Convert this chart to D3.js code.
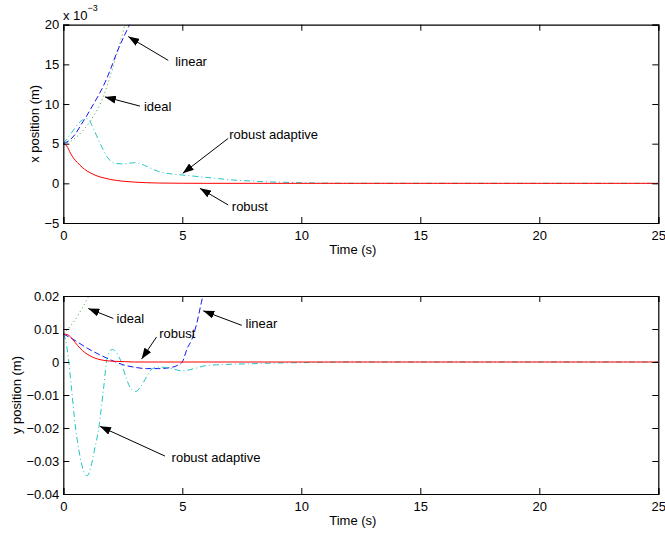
<!DOCTYPE html>
<html>
<head>
<meta charset="utf-8">
<script src="https://cdn.jsdelivr.net/npm/d3@7"></script>
<style>
  body { margin: 0; background: #fff; }
  text { font-family: "Liberation Sans", Arial, sans-serif; fill: #000; }
</style>
</head>
<body>
<div id="chart"></div>
<script>
// x position (units of 1e-3 m)
var xRobustT = [0,0.15,0.3,0.45,0.6,0.8,1,1.25,1.5,1.75,2,2.5,3,3.5,4,5,6,25];
var xRobust  = [5,4.7,3.8,3.1,2.6,2.0,1.55,1.15,0.85,0.65,0.48,0.27,0.15,0.08,0.04,0.01,0,0];
var xLinearT = [0,0.25,0.5,0.75,1,1.25,1.5,1.75,2,2.25,2.5,2.75,3];
var xLinear  = [5,5.4,6.2,7.4,8.6,9.9,11.2,12.7,14.5,16.5,18.2,19.8,21.5];
var xIdealT  = [0,0.25,0.5,0.75,1,1.25,1.5,1.75,2,2.25,2.5,2.75];
var xIdeal   = [5,5.2,5.7,6.4,7.3,8.4,9.7,11.5,13.8,16.3,19.0,22];
var xAdaptT  = [0,0.2,0.4,0.6,0.8,0.95,1.1,1.25,1.4,1.55,1.7,1.85,2,2.2,2.5,2.8,3,3.3,3.6,4,4.5,5,5.5,6,6.5,7,7.5,8,9,10,11,12,25];
var xAdapt   = [5,5.8,6.6,7.4,8.0,8.2,7.9,7.0,6.0,5.0,4.1,3.3,2.8,2.5,2.45,2.55,2.6,2.4,2.0,1.5,1.2,1.05,0.9,0.75,0.6,0.45,0.35,0.27,0.15,0.08,0.03,0.01,0];

// y position (m)
var yRobustT = [0,0.2,0.4,0.6,0.8,1,1.25,1.5,1.8,2.2,2.6,3,4,25];
var yRobust  = [0.0085,0.0082,0.0068,0.0050,0.0035,0.0024,0.0014,0.0008,0.0004,0.0002,0.0001,0,0,0];
var yIdealT  = [0,0.25,0.5,0.75,1,1.25];
var yIdeal   = [0.0085,0.0105,0.0128,0.0158,0.019,0.0225];
var yLinearT = [0,0.5,1,1.5,2,2.5,3,3.5,4,4.5,4.8,5,5.2,5.4,5.6,5.8,6];
var yLinear  = [0.0085,0.0065,0.0042,0.0023,0.0006,-0.0008,-0.0016,-0.002,-0.002,-0.0017,-0.001,0,0.004,0.0068,0.0115,0.018,0.024];
var yAdaptT  = [0,0.1,0.2,0.35,0.5,0.7,0.85,1,1.15,1.3,1.5,1.7,1.85,2.05,2.2,2.4,2.65,2.85,3.05,3.25,3.5,3.75,4,4.5,5,5.5,6,7,8,9,10,12,25];
var yAdapt   = [0.0085,0.0065,0.002,-0.0084,-0.019,-0.0285,-0.033,-0.0345,-0.032,-0.027,-0.0195,-0.0075,0.0015,0.0038,0.0032,0.0006,-0.005,-0.0082,-0.0089,-0.0075,-0.0045,-0.002,-0.0015,-0.0019,-0.0027,-0.002,-0.0011,-0.0007,-0.0005,-0.0003,-0.0002,0,0];

var timeTicks = [0,5,10,15,20,25];
var xPosTicks = [-5,0,5,10,15,20];
var yPosTicks = [-0.04,-0.03,-0.02,-0.01,0,0.01,0.02];

// annotations: label, text anchor (t, v), arrow tail, arrow head
var xNotes = [
    {label: "linear", at: [4.70, 15.24], tail: [4.41, 15.5], head: [2.73, 18.5]},
    {label: "ideal", at: [3.39, 9.52], tail: [3.22, 9.74], head: [1.75, 10.9]},
    {label: "robust adaptive", at: [6.97, 6.08], tail: [6.93, 5.67], head: [5.02, 1.26]},
    {label: "robust", at: [7.08, -3.07], tail: [6.93, -2.73], head: [5.74, -0.63]}
];
var yNotes = [
    {label: "ideal", at: [2.24, 0.0129], tail: [2.10, 0.0132], head: [1.05, 0.0162]},
    {label: "linear", at: [7.66, 0.0114], tail: [7.50, 0.0111], head: [5.88, 0.0155]},
    {label: "robust", at: [4.03, 0.0084], tail: [3.92, 0.0076], head: [3.29, 0.0009]},
    {label: "robust adaptive", at: [4.55, -0.0292], tail: [4.27, -0.0285], head: [1.54, -0.0195]}
];

/* SVG */
var width = 665, height = 533;
var fs = "13px";
var svg = d3.select("#chart").append("svg")
    .attr("width", width)
    .attr("height", height);

svg.append("defs").append("marker")
    .attr("id", "arrow")
    .attr("markerUnits", "userSpaceOnUse")
    .attr("viewBox", "0 0 11 8")
    .attr("refX", 11).attr("refY", 4)
    .attr("markerWidth", 11).attr("markerHeight", 8)
    .attr("orient", "auto")
  .append("path")
    .attr("d", "M0,0 L11,4 L0,8 Z")
    .attr("fill", "#000");

var zip = (ts, vs) => ts.map((t, i) => [t, vs[i]]);
var minus = s => s.replace(/-/g, "\u2212");

function panel(o) {
    var x = d3.scaleLinear().domain([0, 25]).range([63.3, 658.3]);
    var y = d3.scaleLinear().domain(o.domain).range([o.bottom, o.top]);
    var g = svg.append("g");

    g.append("clipPath").attr("id", o.id)
      .append("rect")
        .attr("x", x(0)).attr("y", y(o.domain[1]))
        .attr("width", x(25) - x(0)).attr("height", y(o.domain[0]) - y(o.domain[1]));

    var line = d3.line()
        .x(d => x(d[0]))
        .y(d => y(d[1]))
        .curve(d3.curveMonotoneX);

    var lines = g.append("g").attr("clip-path", "url(#" + o.id + ")");
    o.series.forEach(function(s) {
        lines.append("path")
            .attr("d", line(s.data))
            .attr("fill", "none")
            .attr("stroke", s.color)
            .attr("stroke-width", s.w || 1)
            .attr("stroke-dasharray", s.dash);
    });

    // frame + ticks on all sides (inward)
    var fmt = o.fmt;
    g.append("g").attr("transform", "translate(0," + y(o.domain[0]) + ")")
        .call(d3.axisBottom(x).tickValues(timeTicks).tickSize(-6).tickPadding(8).tickFormat(d3.format("d")));
    g.append("g").attr("transform", "translate(0," + y(o.domain[1]) + ")")
        .call(d3.axisTop(x).tickValues(timeTicks).tickSize(-6).tickFormat(""));
    g.append("g").attr("transform", "translate(" + x(0) + ",0)")
        .call(d3.axisLeft(y).tickValues(o.ticks).tickSize(-6).tickPadding(4).tickFormat(d => minus(fmt(d))));
    g.append("g").attr("transform", "translate(" + x(25) + ",0)")
        .call(d3.axisRight(y).tickValues(o.ticks).tickSize(-6).tickFormat(""));
    g.selectAll(".domain").attr("stroke", "#000").attr("stroke-width", 1.2);
    g.selectAll(".tick line").attr("stroke", "#000");
    g.selectAll(".tick text").style("font-size", fs).attr("fill", "#000")
        .style("font-family", "'Liberation Sans', Arial, sans-serif");

    g.append("text")
        .attr("x", (x(0) + x(25)) / 2 - 8).attr("y", o.bottom + 31)
        .attr("text-anchor", "middle")
        .style("font-size", fs)
        .text("Time (s)");

    g.append("text")
        .attr("transform", "translate(" + o.labelX + "," + (o.top + o.bottom) / 2 + ") rotate(-90)")
        .attr("text-anchor", "middle")
        .style("font-size", fs)
        .text(o.ylabel);

    o.notes.forEach(function(n) {
        g.append("line")
            .attr("x1", x(n.tail[0])).attr("y1", y(n.tail[1]))
            .attr("x2", x(n.head[0])).attr("y2", y(n.head[1]))
            .attr("stroke", "#000")
            .attr("marker-end", "url(#arrow)");
        g.append("text")
            .attr("x", x(n.at[0])).attr("y", y(n.at[1]))
            .attr("dominant-baseline", "middle")
            .style("font-size", fs)
            .text(n.label);
    });
    return {x: x, y: y};
}

var dashes = {linear: "6,3", ideal: "1,3", adapt: "6,3,1,3"};
var colors = {robust: "#ff0000", linear: "#1515ee", ideal: "#40a040", adapt: "#20c4c4"};

panel({
    id: "clipTop", top: 24.7, bottom: 223, domain: [-5, 20], ticks: xPosTicks,
    fmt: d3.format("d"), ylabel: "x position (m)", labelX: 39, notes: xNotes,
    series: [
        {data: zip(xIdealT, xIdeal), color: colors.ideal, dash: dashes.ideal},
        {data: zip(xLinearT, xLinear), color: colors.linear, dash: dashes.linear},
        {data: zip(xAdaptT, xAdapt), color: colors.adapt, dash: dashes.adapt},
        {data: zip(xRobustT, xRobust), color: colors.robust}
    ]
});

// exponent label
var ex = svg.append("text").attr("x", 63).attr("y", 19.5).style("font-size", fs);
ex.append("tspan").text("x 10");
ex.append("tspan").attr("dy", -9).style("font-size", "9px").text("\u22123");

panel({
    id: "clipBot", top: 296, bottom: 494, domain: [-0.04, 0.02], ticks: yPosTicks,
    fmt: d => d === 0 ? "0" : d3.format(".2f")(d), ylabel: "y position (m)", labelX: 21, notes: yNotes,
    series: [
        {data: zip(yIdealT, yIdeal), color: colors.ideal, dash: dashes.ideal},
        {data: zip(yLinearT, yLinear), color: colors.linear, dash: dashes.linear},
        {data: zip(yAdaptT, yAdapt), color: colors.adapt, dash: dashes.adapt},
        {data: zip(yRobustT, yRobust), color: colors.robust}
    ]
});
</script>
</body>
</html>
